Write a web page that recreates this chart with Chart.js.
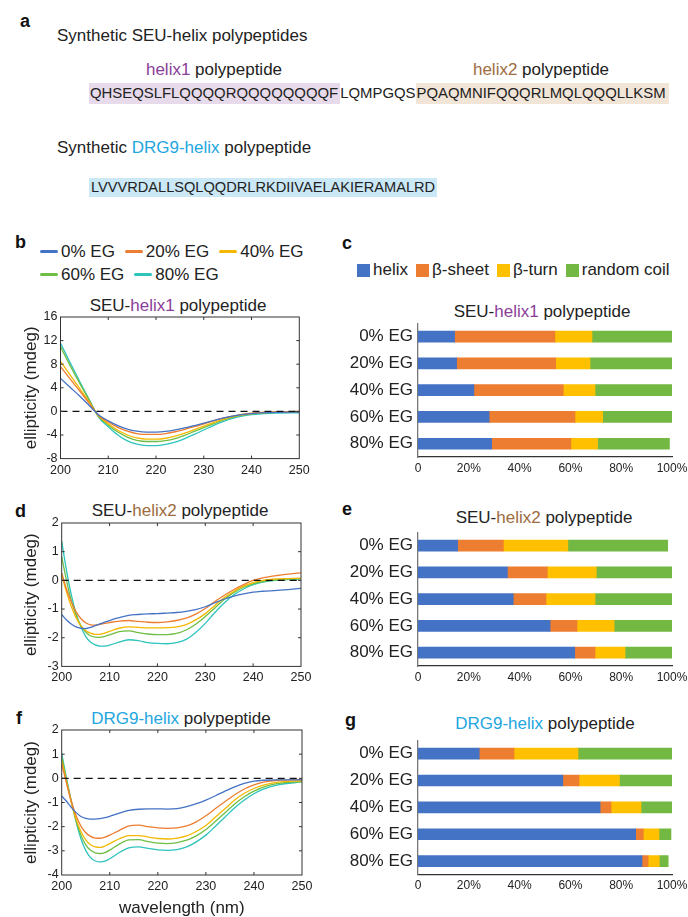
<!DOCTYPE html>
<html>
<head>
<meta charset="utf-8">
<script src="https://cdn.jsdelivr.net/npm/chart.js@4.4.0/dist/chart.umd.min.js"></script>
<style>
  html, body { margin: 0; padding: 0; background: #fff; }
  #fig { position: relative; width: 688px; height: 917px; overflow: hidden;
         font-family: "Liberation Sans", Arial, Helvetica, sans-serif; color: #222; background: #fff; }
  .t { position: absolute; white-space: nowrap; line-height: 1; transform: translateY(-50%); }
  .t.c { transform: translate(-50%, -50%); }
  .seq { position: absolute; white-space: nowrap; }
  .leg { position: absolute; display: flex; flex-wrap: wrap; column-gap: 10px; font-size: 17px; }
  .leg .it { display: flex; align-items: center; height: 23.3px; }
  .leg .ln { width: 18px; height: 3px; border-radius: 1.5px; margin-right: 3px; }
  .bleg { position: absolute; display: flex; column-gap: 8px; font-size: 17px; height: 23px; align-items: center; }
  .bleg .it { display: flex; align-items: center; }
  .bleg .sq { width: 13px; height: 13px; margin-right: 3px; }
  canvas { position: absolute; }
</style>
</head>
<body>
<div id="fig"></div>
<script>
// ---------------- data ----------------
const mixes = ['0% EG', '20% EG', '40% EG', '60% EG', '80% EG'];
const structures = ['helix', 'β-sheet', 'β-turn', 'random coil'];

// CD spectra, SEU-helix1 (wavelength in nm, ellipticity in mdeg)
const wlHelix1 = [200, 202, 204, 206, 208, 210, 212, 214, 216, 218, 220, 222, 224, 226, 228, 230, 232, 234, 236, 238, 240, 242, 245, 250];
const helix1EG0  = [5.6, 4.1, 2.6, 1.0, -0.6, -1.6, -2.4, -3.0, -3.35, -3.5, -3.5, -3.4, -3.15, -2.8, -2.4, -2.0, -1.55, -1.15, -0.8, -0.55, -0.38, -0.26, -0.15, -0.1];
const helix1EG20 = [7.6, 5.5, 3.5, 1.4, -0.7, -1.8, -2.7, -3.35, -3.75, -3.9, -3.9, -3.75, -3.45, -3.05, -2.6, -2.1, -1.6, -1.15, -0.8, -0.5, -0.3, -0.18, -0.08, 0.0];
const helix1EG40 = [8.5, 6.2, 3.9, 1.6, -0.8, -2.1, -3.2, -4.0, -4.5, -4.7, -4.7, -4.55, -4.2, -3.7, -3.1, -2.5, -1.9, -1.35, -0.9, -0.6, -0.38, -0.22, -0.1, 0.0];
const helix1EG60 = [11.0, 7.8, 4.8, 1.9, -0.9, -2.3, -3.5, -4.35, -4.9, -5.1, -5.1, -4.95, -4.6, -4.05, -3.4, -2.75, -2.1, -1.5, -1.0, -0.65, -0.42, -0.28, -0.18, -0.15];
const helix1EG80 = [11.6, 8.3, 5.1, 2.0, -1.0, -2.6, -4.0, -5.0, -5.55, -5.8, -5.8, -5.6, -5.2, -4.6, -3.9, -3.15, -2.4, -1.75, -1.2, -0.8, -0.55, -0.4, -0.3, -0.25];

// CD spectra, SEU-helix2 and DRG9-helix
const wlFine = [200, 201, 202, 203, 204, 205, 206, 207, 208, 209, 210, 212, 214, 216, 218, 220, 222, 224, 226, 228, 230, 232, 234, 236, 238, 240, 242, 245, 250];
const helix2EG0  = [-1.19, -1.38, -1.52, -1.62, -1.67, -1.68, -1.64, -1.58, -1.52, -1.46, -1.40, -1.30, -1.22, -1.19, -1.17, -1.16, -1.14, -1.12, -1.08, -1.02, -0.92, -0.78, -0.65, -0.55, -0.47, -0.41, -0.38, -0.35, -0.28];
const helix2EG20 = [0.26, -0.3, -0.75, -1.1, -1.33, -1.48, -1.55, -1.56, -1.53, -1.5, -1.47, -1.42, -1.40, -1.43, -1.46, -1.47, -1.45, -1.40, -1.32, -1.18, -0.98, -0.74, -0.52, -0.32, -0.15, 0.0, 0.09, 0.17, 0.26];
const helix2EG40 = [0.2, -0.4, -0.9, -1.3, -1.58, -1.75, -1.84, -1.88, -1.88, -1.84, -1.78, -1.67, -1.62, -1.64, -1.66, -1.66, -1.65, -1.62, -1.54, -1.38, -1.16, -0.88, -0.6, -0.38, -0.2, -0.08, 0.0, 0.05, 0.08];
const helix2EG60 = [0.83, 0.0, -0.7, -1.22, -1.58, -1.8, -1.93, -1.98, -1.99, -1.95, -1.9, -1.79, -1.76, -1.82, -1.87, -1.89, -1.89, -1.85, -1.73, -1.53, -1.26, -0.96, -0.66, -0.42, -0.24, -0.12, -0.04, 0.02, 0.06];
const helix2EG80 = [1.36, 0.35, -0.5, -1.15, -1.62, -1.95, -2.15, -2.25, -2.29, -2.29, -2.26, -2.15, -2.07, -2.1, -2.17, -2.2, -2.21, -2.17, -2.06, -1.82, -1.5, -1.12, -0.78, -0.5, -0.3, -0.15, -0.06, 0.01, 0.05];

const drg9EG0  = [-0.73, -0.95, -1.2, -1.42, -1.58, -1.66, -1.69, -1.69, -1.67, -1.63, -1.57, -1.44, -1.33, -1.28, -1.26, -1.26, -1.27, -1.25, -1.17, -1.05, -0.9, -0.72, -0.53, -0.35, -0.21, -0.12, -0.08, -0.06, -0.06];
const drg9EG20 = [0.6, -0.2, -0.95, -1.55, -1.98, -2.25, -2.4, -2.47, -2.48, -2.43, -2.35, -2.15, -1.97, -1.94, -2.0, -2.05, -2.07, -2.05, -1.97, -1.8, -1.55, -1.25, -0.96, -0.68, -0.44, -0.27, -0.16, -0.08, -0.04];
const drg9EG40 = [0.75, -0.15, -1.0, -1.7, -2.2, -2.55, -2.75, -2.84, -2.86, -2.8, -2.7, -2.5, -2.37, -2.37, -2.43, -2.49, -2.51, -2.47, -2.38, -2.2, -1.95, -1.6, -1.25, -0.9, -0.62, -0.42, -0.28, -0.16, -0.1];
const drg9EG60 = [0.9, -0.05, -0.95, -1.75, -2.35, -2.75, -2.98, -3.08, -3.11, -3.07, -2.97, -2.72, -2.55, -2.54, -2.62, -2.68, -2.7, -2.66, -2.56, -2.38, -2.12, -1.78, -1.42, -1.06, -0.76, -0.53, -0.36, -0.21, -0.14];
const drg9EG80 = [1.03, 0.0, -0.95, -1.8, -2.5, -2.98, -3.28, -3.42, -3.46, -3.43, -3.33, -3.07, -2.88, -2.84, -2.9, -2.96, -2.98, -2.95, -2.84, -2.63, -2.35, -1.98, -1.6, -1.22, -0.9, -0.64, -0.45, -0.27, -0.15];

// secondary structure content (%), one value per EG mix
const helix1Helix = [14.4, 15.2, 22.0, 28.0, 29.0];
const helix1Sheet = [39.5, 39.0, 35.2, 33.8, 31.2];
const helix1Turn  = [14.6, 13.5, 12.5, 10.9, 10.5];
const helix1Coil  = [31.5, 32.3, 30.3, 27.3, 28.3];

const helix2Helix = [15.6, 35.2, 37.5, 52.0, 61.7];
const helix2Sheet = [18.0, 15.7, 12.9, 10.6, 8.0];
const helix2Turn  = [25.4, 19.3, 19.3, 14.6, 11.8];
const helix2Coil  = [39.3, 29.8, 30.3, 22.8, 18.5];

const drg9Helix = [24.1, 57.0, 71.7, 85.7, 88.2];
const drg9Sheet = [13.7, 6.4, 4.3, 3.0, 2.4];
const drg9Turn  = [25.2, 15.9, 11.8, 6.2, 4.4];
const drg9Coil  = [37.0, 20.7, 12.2, 4.7, 3.5];

const xTicksWl = [200, 210, 220, 230, 240, 250];

// ---------------- styles ----------------
const lineColors = ['#4472C4', '#ED7D31', '#F4B800', '#6EBE44', '#2EC3BD'];
const barColors = ['#4472C4', '#ED7D31', '#FFC000', '#72B843'];
const purple = '#8B3D98', brown = '#9E6B3E', sky = '#22A6DF';
const FONT = '"Liberation Sans", Arial, Helvetica, sans-serif';
Chart.defaults.font.family = FONT;
Chart.defaults.color = '#222';

const fig = document.getElementById('fig');

function addText(html, x, y, size, opts = {}) {
  const d = document.createElement('div');
  d.className = 't' + (opts.center ? ' c' : '');
  d.style.left = x + 'px';
  d.style.top = y + 'px';
  d.style.fontSize = size + 'px';
  if (opts.bold) d.style.fontWeight = 'bold';
  if (opts.color) d.style.color = opts.color;
  d.innerHTML = html;
  fig.appendChild(d);
  return d;
}
const col = (txt, c) => `<span style="color:${c}">${txt}</span>`;

function makeCanvas(r) {
  const c = document.createElement('canvas');
  c.width = r.w; c.height = r.h;
  c.style.left = r.x + 'px'; c.style.top = r.y + 'px';
  c.style.width = r.w + 'px'; c.style.height = r.h + 'px';
  fig.appendChild(c);
  return c;
}

// ---------------- panel a: sequences ----------------
addText('a', 20, 21, 18, { bold: true, color: '#111' });
addText('Synthetic SEU-helix polypeptides', 57, 34.5, 17);
addText(col('helix1', purple) + ' polypeptide', 214, 69, 17, { center: true });
addText(col('helix2', brown) + ' polypeptide', 541, 69, 17, { center: true });

const seq1 = document.createElement('div');
seq1.className = 'seq';
seq1.style.cssText = 'left:89px;top:83px;height:21px;line-height:21px;font-size:14.9px;';
seq1.innerHTML =
  '<span style="background:#E7DAEA;display:inline-block;padding:0 2px 0 1px;">QHSEQSLFLQQQQRQQQQQQQQF</span>' +
  '<span>LQMPGQS</span>' +
  '<span style="background:#F1E5D8;display:inline-block;padding:0 3px 0 1px;">PQAQMNIFQQQRLMQLQQQLLKSM</span>';
fig.appendChild(seq1);

addText('Synthetic ' + col('DRG9-helix', sky) + ' polypeptide', 57, 146.7, 17);
const seq2 = document.createElement('div');
seq2.className = 'seq';
seq2.style.cssText = 'left:89px;top:178px;height:19px;line-height:19px;font-size:14.6px;background:#CAE8F6;padding:0 2px;';
seq2.textContent = 'LVVVRDALLSQLQQDRLRKDIIVAELAKIERAMALRD';
fig.appendChild(seq2);

// ---------------- legends ----------------
const lineLeg = document.createElement('div');
lineLeg.className = 'leg';
lineLeg.style.cssText = 'left:40px;top:240px;width:272px;';
mixes.forEach((m, i) => {
  const it = document.createElement('div');
  it.className = 'it';
  it.innerHTML = `<span class="ln" style="background:${lineColors[i]}"></span><span>${m}</span>`;
  lineLeg.appendChild(it);
});
fig.appendChild(lineLeg);

const barLeg = document.createElement('div');
barLeg.className = 'bleg';
barLeg.style.cssText = 'left:357px;top:258.5px;';
structures.forEach((s, i) => {
  const it = document.createElement('div');
  it.className = 'it';
  it.innerHTML = `<span class="sq" style="background:${barColors[i]}"></span><span>${s}</span>`;
  barLeg.appendChild(it);
});
fig.appendChild(barLeg);

// ---------------- panel letters and titles ----------------
addText('b', 15, 241.5, 18, { bold: true, color: '#111' });
addText('c', 342, 243, 18, { bold: true, color: '#111' });
addText('d', 15, 511, 18, { bold: true, color: '#111' });
addText('e', 342, 509, 18, { bold: true, color: '#111' });
addText('f', 16, 717.5, 18, { bold: true, color: '#111' });
addText('g', 345, 719.5, 18, { bold: true, color: '#111' });

addText('SEU-' + col('helix1', purple) + ' polypeptide', 178, 305, 17, { center: true });
addText('SEU-' + col('helix1', purple) + ' polypeptide', 542, 311, 17, { center: true });
addText('SEU-' + col('helix2', brown) + ' polypeptide', 180, 510, 17, { center: true });
addText('SEU-' + col('helix2', brown) + ' polypeptide', 544, 516.7, 17, { center: true });
addText(col('DRG9-helix', sky) + ' polypeptide', 181, 718, 17, { center: true });
addText(col('DRG9-helix', sky) + ' polypeptide', 545, 723.3, 17, { center: true });

// ---------------- CD spectra ----------------
// frame with inward tick marks, placed by the chart's own scales
const framePlugin = {
  id: 'frame',
  afterDatasetsDraw(chart) {
    const { ctx, chartArea: a, scales } = chart;
    ctx.save();
    ctx.strokeStyle = '#333';
    ctx.lineWidth = 1;
    ctx.strokeRect(a.left, a.top, a.right - a.left, a.bottom - a.top);
    ctx.beginPath();
    scales.x.ticks.forEach(t => {
      const px = scales.x.getPixelForValue(t.value);
      if (px <= a.left + 1 || px >= a.right - 1) return;
      ctx.moveTo(px, a.bottom); ctx.lineTo(px, a.bottom - 3);
      ctx.moveTo(px, a.top); ctx.lineTo(px, a.top + 3);
    });
    scales.y.ticks.forEach(t => {
      const py = scales.y.getPixelForValue(t.value);
      if (py <= a.top + 1 || py >= a.bottom - 1) return;
      ctx.moveTo(a.left, py); ctx.lineTo(a.left + 3, py);
      ctx.moveTo(a.right, py); ctx.lineTo(a.right - 3, py);
    });
    ctx.stroke();
    ctx.restore();
  }
};

function spectrumChart(box, area, wl, series, yMin, yMax, yStep, xTitle) {
  const cv = makeCanvas(box);
  const padLeft = 23;
  const yWidth = area.l - box.x - padLeft;
  const xHeight = box.y + box.h - area.b;
  const datasets = [{
    // zero baseline
    data: [{ x: xTicksWl[0], y: 0 }, { x: xTicksWl[xTicksWl.length - 1], y: 0 }],
    borderColor: '#111', borderWidth: 1.3, borderDash: [7, 5], pointRadius: 0, fill: false
  }];
  series.forEach((vals, i) => {
    datasets.push({
      label: mixes[i],
      data: wl.map((x, k) => ({ x, y: vals[k] })),
      borderColor: lineColors[i], borderWidth: 1.3, pointRadius: 0, fill: false,
      cubicInterpolationMode: 'monotone'
    });
  });
  return new Chart(cv, {
    type: 'line',
    data: { datasets },
    plugins: [framePlugin],
    options: {
      responsive: false, animation: false, events: [],
      layout: { padding: { left: padLeft, top: area.t - box.y, right: box.x + box.w - area.r, bottom: 0 } },
      plugins: { legend: { display: false }, tooltip: { enabled: false } },
      scales: {
        x: {
          type: 'linear', min: xTicksWl[0], max: xTicksWl[xTicksWl.length - 1],
          afterBuildTicks: s => { s.ticks = xTicksWl.map(v => ({ value: v })); },
          ticks: { font: { size: 12.5 }, color: '#222', padding: 4, maxRotation: 0, autoSkip: false },
          grid: { display: false, drawTicks: false }, border: { display: false },
          title: { display: xTitle, text: 'wavelength (nm)', font: { size: 17, lineHeight: 1 }, color: '#222', padding: { top: 0, bottom: 0.2 } },
          afterFit: s => { s.height = xHeight; }
        },
        y: {
          type: 'linear', min: yMin, max: yMax,
          ticks: { stepSize: yStep, font: { size: 12.5 }, color: '#222', padding: 3, autoSkip: false },
          grid: { display: false, drawTicks: false }, border: { display: false },
          title: { display: true, text: 'ellipticity (mdeg)', font: { size: 17, lineHeight: 1 }, color: '#222', padding: 0 },
          afterFit: s => { s.width = yWidth; }
        }
      }
    }
  });
}

spectrumChart({ x: 0, y: 304.7, w: 340, h: 177 }, { l: 60.5, t: 316.7, r: 299.3, b: 458.3 },
  wlHelix1, [helix1EG0, helix1EG20, helix1EG40, helix1EG60, helix1EG80], -8, 16, 4, false);
spectrumChart({ x: 0, y: 511.3, w: 340, h: 175 }, { l: 61.7, t: 523.3, r: 301, b: 666.7 },
  wlFine, [helix2EG0, helix2EG20, helix2EG40, helix2EG60, helix2EG80], -3, 2, 1, false);
spectrumChart({ x: 0, y: 718, w: 340, h: 199 }, { l: 61.7, t: 730, r: 302, b: 875 },
  wlFine, [drg9EG0, drg9EG20, drg9EG40, drg9EG60, drg9EG80], -4, 2, 1, true);

// ---------------- secondary structure bars ----------------
function structureChart(box, area, parts) {
  const cv = makeCanvas(box);
  const yWidth = area.l - box.x;
  const xHeight = box.y + box.h - area.b;
  return new Chart(cv, {
    type: 'bar',
    data: {
      labels: mixes,
      datasets: parts.map((vals, k) => ({
        label: structures[k], data: vals, backgroundColor: barColors[k],
        borderWidth: 0, barThickness: 11
      }))
    },
    options: {
      indexAxis: 'y', responsive: false, animation: false, events: [],
      layout: { padding: { left: 0, top: area.t - box.y, right: box.x + box.w - area.r, bottom: 0 } },
      plugins: { legend: { display: false }, tooltip: { enabled: false } },
      scales: {
        x: {
          stacked: true, min: 0, max: 100,
          ticks: { stepSize: 20, font: { size: 12 }, color: '#222', padding: 4, autoSkip: false,
                   callback: v => (v === 0 ? '0' : v + '%') },
          grid: { display: false, drawTicks: false },
          border: { display: true, color: '#333', width: 1.3 },
          afterFit: s => { s.height = xHeight; }
        },
        y: {
          stacked: true,
          ticks: { font: { size: 17 }, color: '#222', padding: 5, autoSkip: false },
          grid: { display: false, drawTicks: false },
          border: { display: true, color: '#777', width: 1.3 },
          afterFit: s => { s.width = yWidth; }
        }
      }
    }
  });
}

// canvases run a little past the right edge so the last tick label has room
structureChart({ x: 340, y: 307.6, w: 362, h: 174.4 }, { l: 418, t: 319.6, r: 672, b: 457.1 },
  [helix1Helix, helix1Sheet, helix1Turn, helix1Coil]);
structureChart({ x: 340, y: 516.5, w: 362, h: 171.5 }, { l: 418, t: 528.5, r: 672, b: 666 },
  [helix2Helix, helix2Sheet, helix2Turn, helix2Coil]);
structureChart({ x: 340, y: 725, w: 362, h: 176 }, { l: 418, t: 737, r: 672, b: 874.5 },
  [drg9Helix, drg9Sheet, drg9Turn, drg9Coil]);
</script>
</body>
</html>
